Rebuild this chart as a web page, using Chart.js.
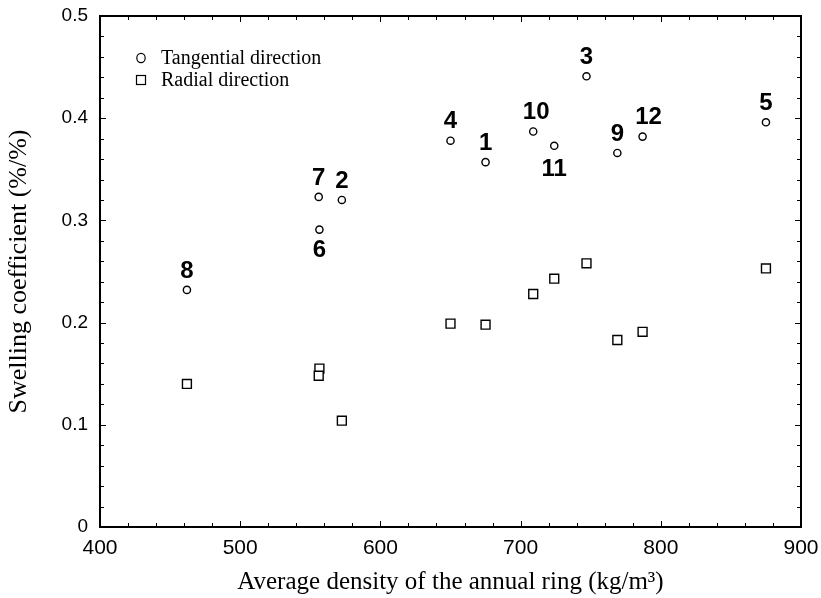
<!DOCTYPE html>
<html>
<head>
<meta charset="utf-8">
<script src="https://cdn.jsdelivr.net/npm/chart.js@4.4.0/dist/chart.umd.min.js"></script>
<style>
  html, body { margin: 0; padding: 0; background: #fff; }
  #wrap { width: 821px; height: 598px; }
</style>
</head>
<body>
<div id="wrap"><canvas id="c"></canvas></div>
<script>
// sample numbers, density (kg/m3) and swelling coefficients
const sampleIds = ['1', '2', '3', '4', '5', '6', '7', '8', '9', '10', '11', '12'];
const density = [675, 572.5, 747, 650, 875, 556.5, 556, 462, 769, 709, 724, 787];
const tangential = [0.357, 0.320, 0.441, 0.378, 0.396, 0.291, 0.323, 0.232, 0.366, 0.387, 0.373, 0.382];
const radial = [0.198, 0.104, 0.258, 0.199, 0.253, 0.155, 0.148, 0.140, 0.183, 0.228, 0.243, 0.191];
const xTicks = [400, 500, 600, 700, 800, 900];
const yTicks = [0, 0.1, 0.2, 0.3, 0.4, 0.5];

const serif = '"Liberation Serif", "Times New Roman", serif';
const sans = '"Liberation Sans", Arial, sans-serif';

// frame round the plot, with small inward ticks on all four sides
const framePlugin = {
  id: 'frame',
  afterDatasetsDraw(chart) {
    const ctx = chart.ctx;
    const a = chart.chartArea;
    const x = chart.scales.x, y = chart.scales.y;
    ctx.save();
    ctx.strokeStyle = '#000';
    ctx.lineWidth = 1;
    ctx.beginPath();
    for (let v = xTicks[0]; v <= xTicks[xTicks.length - 1]; v += 20) {
      const px = Math.round(x.getPixelForValue(v)) + 0.5;
      const len = v % 100 === 0 ? 6 : 4;
      ctx.moveTo(px, a.bottom); ctx.lineTo(px, a.bottom - len);
      ctx.moveTo(px, a.top); ctx.lineTo(px, a.top + len);
    }
    for (let i = 0; i <= 25; i++) {
      const py = Math.round(y.getPixelForValue(i * 0.02)) + 0.5;
      const len = i % 5 === 0 ? 6 : 4;
      ctx.moveTo(a.left, py); ctx.lineTo(a.left + len, py);
      ctx.moveTo(a.right, py); ctx.lineTo(a.right - len, py);
    }
    ctx.stroke();
    ctx.lineWidth = 2;
    ctx.strokeRect(a.left, a.top, a.right - a.left, a.bottom - a.top);
    ctx.restore();
  }
};

// bold sample numbers next to the tangential points
const labelBelow = { '6': 21, '11': 24 };
const labelShift = { '10': 3, '12': 6 };
const numberPlugin = {
  id: 'numbers',
  afterDatasetsDraw(chart) {
    const ctx = chart.ctx;
    const pts = chart.getDatasetMeta(0).data;
    ctx.save();
    ctx.fillStyle = '#000';
    ctx.font = 'bold 24px ' + sans;
    ctx.textAlign = 'center';
    ctx.textBaseline = 'middle';
    pts.forEach((p, i) => {
      const id = sampleIds[i];
      const dy = labelBelow[id] !== undefined ? labelBelow[id] : -19;
      ctx.fillText(id, p.x + (labelShift[id] || 0), p.y + dy);
    });
    ctx.restore();
  }
};

// legend in the upper left corner of the plot
const legendPlugin = {
  id: 'boxLegend',
  afterDraw(chart) {
    const ctx = chart.ctx;
    const a = chart.chartArea;
    const sx = a.left + 41, tx = a.left + 61;
    const rows = [a.top + 42, a.top + 64];
    ctx.save();
    ctx.strokeStyle = '#000';
    ctx.lineWidth = 1.2;
    ctx.beginPath();
    ctx.ellipse(sx, rows[0], 4.2, 4.6, 0, 0, Math.PI * 2);
    ctx.stroke();
    ctx.strokeRect(sx - 4.5, rows[1] - 4.5, 9, 9);
    ctx.fillStyle = '#000';
    ctx.font = '20px ' + serif;
    ctx.textBaseline = 'middle';
    chart.data.datasets.forEach((ds, i) => ctx.fillText(ds.label, tx, rows[i] + 1));
    ctx.restore();
  }
};

// drop the extra room chart.js keeps for half tick labels at the ends
function noEndPadding(s) {
  s.paddingTop = 0;
  s.paddingBottom = 0;
  s.paddingLeft = 0;
  s.paddingRight = 0;
}

new Chart(document.getElementById('c'), {
  type: 'scatter',
  data: {
    datasets: [
      {
        label: 'Tangential direction',
        data: density.map((d, i) => ({ x: d, y: tangential[i] })),
        pointStyle: 'circle',
        pointRadius: 3.6,
        pointBorderWidth: 1.4,
        pointBorderColor: '#000',
        pointBackgroundColor: '#fff'
      },
      {
        label: 'Radial direction',
        data: density.map((d, i) => ({ x: d, y: radial[i] })),
        pointStyle: 'rect',
        pointRadius: 6.3,
        pointBorderWidth: 1.4,
        pointBorderColor: '#000',
        pointBackgroundColor: '#fff'
      }
    ]
  },
  options: {
    responsive: true,
    maintainAspectRatio: false,
    animation: false,
    layout: { padding: { left: 0, right: 20, top: 16, bottom: 0 } },
    plugins: { legend: { display: false }, tooltip: { enabled: false } },
    scales: {
      x: {
        type: 'linear',
        min: xTicks[0],
        max: xTicks[xTicks.length - 1],
        afterBuildTicks(s) { s.ticks = xTicks.map(v => ({ value: v })); },
        afterFit(s) { s.height = 71; noEndPadding(s); },
        grid: { display: false, drawTicks: false },
        border: { display: false },
        ticks: { color: '#000', padding: 9, font: { family: sans, size: 21 } },
        title: {
          display: true,
          text: 'Average density of the annual ring (kg/m³)',
          color: '#000',
          font: { family: serif, size: 25 },
          padding: { top: 0, bottom: 1 }
        }
      },
      y: {
        type: 'linear',
        min: yTicks[0],
        max: yTicks[yTicks.length - 1],
        afterBuildTicks(s) { s.ticks = yTicks.map(v => ({ value: v })); },
        afterFit(s) { s.width = 100; noEndPadding(s); },
        grid: { display: false, drawTicks: false },
        border: { display: false },
        ticks: {
          color: '#000',
          padding: 12,
          font: { family: sans, size: 19 },
          callback: v => (v === 0 ? '0' : v.toFixed(1))
        },
        title: {
          display: true,
          text: 'Swelling coefficient (%/%)',
          color: '#000',
          font: { family: serif, size: 26 },
          padding: { top: 4, bottom: 0 }
        }
      }
    }
  },
  plugins: [framePlugin, numberPlugin, legendPlugin]
});
</script>
</body>
</html>
